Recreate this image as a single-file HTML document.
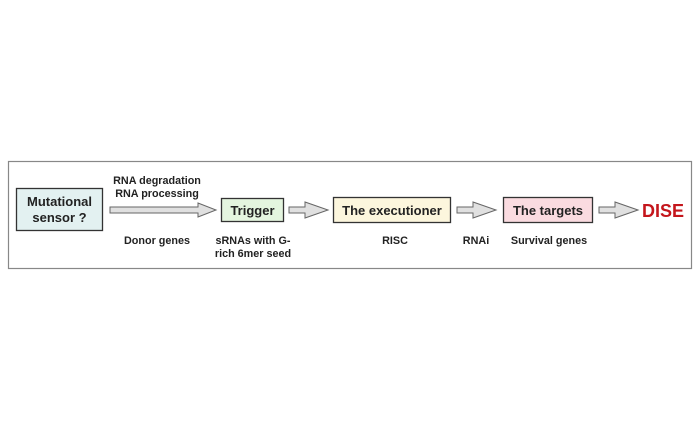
<!DOCTYPE html>
<html><head><style>
body{margin:0;width:700px;height:430px;background:#fff;overflow:hidden}
</style></head><body>
<svg width="700" height="430" viewBox="0 0 700 430" xmlns="http://www.w3.org/2000/svg" font-family="Liberation Sans, Arial, sans-serif" font-weight="bold">
<rect x="8.5" y="161.5" width="683" height="107" fill="#fff" stroke="#888" stroke-width="1.2"/>
<rect x="16.5" y="188.5" width="86" height="42" fill="#e3f1f1" stroke="#333" stroke-width="1.3"/>
<text x="59.5" y="206" font-size="13" text-anchor="middle" fill="#222">Mutational</text>
<text x="59.5" y="222" font-size="13" text-anchor="middle" fill="#222">sensor ?</text>
<g fill="#e0e0e0" stroke="#666" stroke-width="1">
<polygon points="110,207 198,207 198,203 216,210 198,217 198,213 110,213"/>
<polygon points="289,207 305,207 305,202 328,210 305,218 305,213 289,213"/>
<polygon points="457,207 473,207 473,202 496,210 473,218 473,213 457,213"/>
<polygon points="599,207 615,207 615,202 638,210 615,218 615,213 599,213"/>
</g>
<rect x="221.5" y="198.5" width="62" height="23" fill="#e4f5df" stroke="#333" stroke-width="1.3"/>
<text x="252.5" y="215" font-size="13" text-anchor="middle" fill="#222">Trigger</text>
<rect x="333.5" y="197.5" width="117" height="25" fill="#fcf6dd" stroke="#333" stroke-width="1.3"/>
<text x="392" y="215" font-size="13" text-anchor="middle" fill="#222">The executioner</text>
<rect x="503.5" y="197.5" width="89" height="25" fill="#fadbe0" stroke="#333" stroke-width="1.3"/>
<text x="548" y="215" font-size="13" text-anchor="middle" fill="#222">The targets</text>
<text x="663" y="217" font-size="18" text-anchor="middle" fill="#c4161c">DISE</text>
<g font-size="10.8" text-anchor="middle" fill="#222">
<text x="157" y="184">RNA degradation</text>
<text x="157" y="197">RNA processing</text>
<text x="157" y="244">Donor genes</text>
<text x="253" y="244">sRNAs with G-</text>
<text x="253" y="257">rich 6mer seed</text>
<text x="395" y="244">RISC</text>
<text x="476" y="244">RNAi</text>
<text x="549" y="244">Survival genes</text>
</g>
</svg>
</body></html>
